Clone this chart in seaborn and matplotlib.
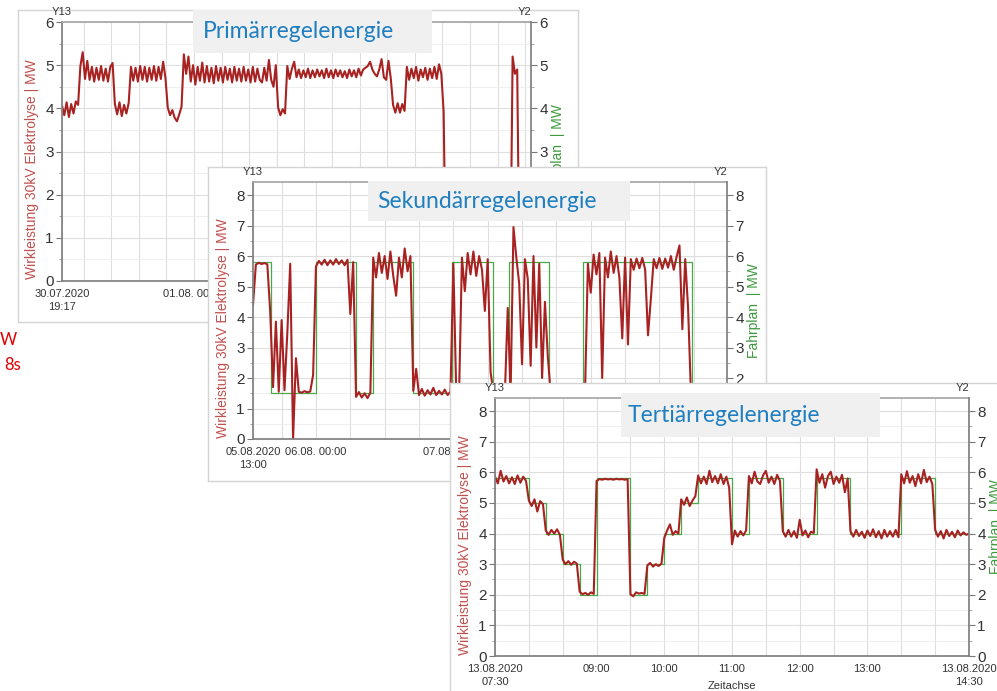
import pandas as pd
import matplotlib
matplotlib.use("Agg")
import matplotlib.pyplot as plt
from matplotlib.patches import Rectangle
from matplotlib.ticker import MultipleLocator
import seaborn as sns

# ---------------------------------------------------------------- data
# Primaerregelenergie: Wirkleistung, one reading every 30 min from 30.07.2020 19:17
prl_start = "2020-07-30 19:17"
prl_end = "2020-08-04 01:17"
prl_mw = [
    4.06, 3.84, 4.14, 3.80, 4.10, 3.88, 4.16,
    4.08,
    4.98, 5.30, 4.68, 5.10, 4.66, 4.96, 4.62, 4.94, 4.66, 4.98, 4.64, 4.92, 4.62, 4.96, 5.05,
    4.10, 3.86, 4.14, 3.82, 4.08, 3.88, 4.12,
    4.96, 4.64, 4.94, 4.62, 4.98, 4.66, 4.96, 4.62, 4.94, 4.66, 4.98, 4.64, 4.96, 4.68, 5.08, 4.70,
    4.02, 3.84, 3.96, 3.78, 3.70, 3.86, 4.04,
    5.25, 4.80, 5.20, 4.62, 5.00, 4.55, 4.96, 4.64, 5.06, 4.60,
    4.98, 4.62, 4.94, 4.58, 4.98, 4.64, 4.94, 4.60, 4.96, 4.66,
    4.92, 4.60, 4.96, 4.64, 4.92, 4.62, 4.96, 4.64, 4.90, 4.60,
    4.96, 4.62, 4.92, 4.66, 4.60, 4.94, 4.64, 5.12, 4.66, 4.50,
    5.00,
    4.02, 3.84, 3.98, 3.88,
    4.98, 4.68, 4.92, 5.08, 4.72, 4.90, 4.70, 4.88, 4.72, 4.92,
    4.70, 4.88, 4.72, 4.90, 4.74, 4.88, 4.70, 4.92, 4.72, 4.88,
    4.70, 4.90, 4.74, 4.88, 4.72, 4.86, 4.70, 4.90, 4.74, 4.88,
    4.72, 4.92, 4.76, 4.90, 4.94, 4.98, 5.08, 4.90, 4.80, 4.74,
    4.90, 5.14, 4.72, 4.66, 5.10, 4.70,
    4.08, 3.90, 4.12, 3.90, 4.10, 3.94,
    4.96, 4.66, 4.92, 4.70, 4.96, 4.64, 4.90, 4.72, 4.94, 4.66, 4.92, 4.70, 4.96, 4.68, 5.02, 4.80,
    3.92, 0.0,
    0, 0, 0, 0, 0, 0, 0, 0, 0, 0, 0, 0, 0, 0, 0, 0, 0, 0, 0, 0, 0, 0, 0, 0, 0, 0, 0, 0,
    5.20, 4.80, 4.90, 0.0,
    0, 0, 0, 0, 0,
]

# Sekundaerregelenergie: one reading every 30 min from 05.08.2020 13:00
srl_start = "2020-08-05 13:00"
srl_end = "2020-08-08 23:48"
srl_mw = [
    4.40,
    5.72, 5.78, 5.74, 5.77, 5.73,
    4.20,
    1.70, 3.85, 1.55, 3.90, 1.60, 3.50,
    5.75, 0.00, 2.65,
    1.55, 1.52, 1.57, 1.53, 1.56, 2.10,
    5.66, 5.84, 5.72, 5.88, 5.70, 5.86, 5.72, 5.90, 5.74, 5.86, 5.70, 5.88, 4.10, 5.80,
    1.38, 1.54, 1.36, 1.50, 1.34, 1.52,
    5.95, 5.30, 6.10, 5.45, 6.00, 5.25, 6.15, 5.35, 4.70, 5.95, 5.30, 6.25, 5.50, 6.00,
    1.58, 2.30, 1.44, 1.64, 1.42, 1.60, 1.46, 1.68, 1.44, 1.58, 1.46, 1.62, 1.44, 1.56,
    5.75,
    1.55, 1.50,
    5.95, 4.85, 6.10, 5.40, 6.15, 5.35, 6.00, 5.55, 4.20, 5.90, 2.20,
    1.50, 1.52, 1.48, 1.51, 1.50,
    4.30, 1.50,
    6.95, 5.95, 5.10, 2.45, 5.90, 5.25, 2.40, 6.00, 3.00, 5.75, 2.00, 4.50, 2.70,
    1.50, 1.52, 1.48, 1.51, 1.49, 1.50, 1.52, 1.48, 1.50, 1.51, 1.49, 1.50, 1.52,
    5.75, 4.80, 6.05, 5.40, 6.10, 2.00, 5.95, 5.30, 6.15, 5.45, 6.00, 5.30,
    3.30, 5.95, 3.10, 5.90, 5.55, 5.92, 5.60, 5.94, 5.56, 3.40, 4.60, 5.90,
    5.60, 5.94, 5.58, 5.92, 5.62, 6.00, 5.55, 5.98, 6.35, 3.60, 5.90, 4.30,
    1.50, 1.48, 1.52, 1.49, 1.51, 1.50, 1.48, 1.52, 1.50, 1.49, 1.51, 1.50, 1.50,
]
srl_plan_zeit = ["2020-08-05 13:00", "2020-08-05 16:06", "2020-08-06 00:00", "2020-08-06 07:00",
                 "2020-08-06 10:00", "2020-08-06 16:54", "2020-08-06 23:42", "2020-08-07 06:54",
                 "2020-08-07 09:42", "2020-08-07 16:42", "2020-08-07 22:36", "2020-08-08 17:36",
                 "2020-08-08 23:48"]
srl_plan_mw = [5.8, 1.5, 5.8, 1.5, 5.8, 1.5, 5.8, 1.5, 5.8, 1.5, 5.8, 1.5, 1.5]

# Tertiaerregelenergie: one reading every 2.5 min from 13.08.2020 07:30
trl_start = "2020-08-13 07:30"
trl_end = "2020-08-13 14:30"
trl_mw = [
    5.86, 5.64, 6.05, 5.70, 5.88, 5.64, 5.84, 5.62, 5.90, 5.66, 5.86, 5.72,
    5.08, 4.90, 5.12, 4.72, 5.06, 4.96,
    4.10, 3.96, 4.12, 4.00, 4.14, 3.96,
    3.15, 3.00, 3.10, 2.98, 3.08, 3.02,
    2.10, 2.02, 2.06, 2.00, 2.08, 2.03,
    5.72, 5.78, 5.76, 5.79, 5.77, 5.78, 5.76, 5.79, 5.77, 5.78, 5.76, 5.78,
    2.02, 1.95, 2.08, 2.04, 2.06, 2.03,
    2.96, 3.04, 2.92, 3.00, 2.94, 3.02,
    3.86, 4.10, 4.30, 3.96, 4.08, 4.00,
    5.12, 4.94, 5.18, 4.90, 5.08, 5.22,
    5.90, 5.64, 5.86, 5.62, 6.05, 5.68, 5.88, 5.64, 5.94, 5.62, 5.86, 5.50,
    3.65, 4.10, 3.90, 4.08, 3.94, 4.10,
    5.88, 5.64, 6.02, 5.70, 5.62, 5.90, 6.05, 5.66, 5.86, 5.62, 5.92, 5.72,
    4.08, 3.90, 4.12, 3.90, 4.08, 3.86, 4.45, 3.94, 4.10, 3.88, 4.06, 4.02,
    6.10, 5.66, 5.94, 5.50, 5.88, 6.02, 5.62, 5.86, 5.66, 5.92, 5.35, 5.80,
    4.08, 3.90, 4.12, 3.92, 4.06, 3.86, 4.10, 3.92, 4.14, 3.88, 4.08, 3.84, 4.12, 3.90, 4.08, 3.90, 4.12, 3.88,
    5.94, 5.64, 6.04, 5.66, 5.88, 5.55, 5.94, 5.64, 6.08, 5.68, 5.86, 5.62,
    4.12, 3.90, 4.08, 3.84, 4.12, 3.92, 4.06, 3.88, 4.10, 3.94, 4.04, 3.96, 4.00,
]
trl_plan_zeit = ["07:30", "08:00", "08:15", "08:30", "08:45", "09:00", "09:30", "09:45", "10:00", "10:15",
                 "10:30", "11:00", "11:15", "11:45", "12:15", "12:45", "13:30", "14:00", "14:30"]
trl_plan_mw = [5.8, 5.0, 4.0, 3.0, 2.0, 5.8, 2.0, 3.0, 4.0, 5.0, 5.8, 4.0, 5.8, 4.0, 5.8, 4.0, 5.8, 4.0, 4.0]

RED = "#a82222"
RED_LABEL = "#c0504d"
GREEN = "#4aa84a"
GREEN_LABEL = "#3c9a3c"
TITLE_BLUE = "#1f7fc0"

sns.set_theme(style="white")
plt.rcParams["font.family"] = ["Liberation Sans", "DejaVu Sans"]

W, H = 997, 691
fig = plt.figure(figsize=(W / 100, H / 100), dpi=100)


def rect(x0, y0, x1, y1):
    return [x0 / W, 1 - y1 / H, (x1 - x0) / W, (y1 - y0) / H]


def tick_labels(ticks, start, end, near):
    out = []
    for t in ticks:
        if t == start or t == end:
            out.append(f"{t:%d.%m.%Y}\n{t:%H:%M}")
        elif min(t - start, end - t) < near:
            out.append("")
        elif near >= pd.Timedelta("6h") and t.hour == 0:
            out.append(f"{t:%d.%m.} {t:%H:%M}")
        elif near < pd.Timedelta("6h") and t.minute == 0:
            out.append(f"{t:%H:%M}")
        else:
            out.append("")
    return out


def panel(z, frame, plot, ymax, title, box, title_x, zeit, mw, plan_zeit, plan_mw,
          xlim, ticks, labels, xlabel=None):
    fr = fig.add_axes(rect(*frame), zorder=z)
    fr.set_xticks([])
    fr.set_yticks([])
    fr.set_facecolor("white")
    for s in fr.spines.values():
        s.set_color("#d4d4d4")
        s.set_linewidth(1)

    ax = fig.add_axes(rect(*plot), zorder=z + 1)
    ax.set_facecolor("white")
    ax.set_axisbelow(True)
    if plan_zeit is not None:
        sns.lineplot(x=plan_zeit, y=plan_mw, ax=ax, color=GREEN, lw=0.9, drawstyle="steps-post")
    sns.lineplot(x=zeit, y=mw, ax=ax, color=RED, lw=1.5)
    ax.set_xlim(*xlim)
    ax.set_ylim(0, ymax)
    ax.set_xticks(ticks)
    ax.set_xticklabels(labels, fontsize=8, linespacing=1.35, color="#333333")
    ax.yaxis.set_major_locator(MultipleLocator(1))
    ax.yaxis.set_minor_locator(MultipleLocator(0.5))
    ax.grid(which="major", color="#dedede", lw=0.8)
    ax.grid(which="minor", axis="y", color="#efefef", lw=0.7)
    ax.tick_params(axis="both", which="major", direction="out", length=4, width=0.8,
                   color="#777777", labelsize=11, pad=2, labelcolor="#333333")
    ax.tick_params(axis="x", labelsize=8)
    ax.tick_params(axis="y", which="minor", direction="out", length=2, width=0.6, color="#999999")
    for side in ["left", "bottom"]:
        ax.spines[side].set_color("#808080")
    ax.spines["top"].set_color("#a6a6a6")
    ax.spines["right"].set_visible(False)
    w_px = plot[2] - plot[0]
    h_px = plot[3] - plot[1]
    ax.set_ylabel("Wirkleistung 30kV Elektrolyse | MW", color=RED_LABEL, fontsize=10)
    ax.yaxis.set_label_coords(-23 / w_px, 0.5 - 18 / h_px)
    if xlabel:
        ax.set_xlabel(xlabel, fontsize=8, color="#333333", va="center")
        ax.xaxis.set_label_coords(0.5, -30 / h_px)
    else:
        ax.set_xlabel("")
    ax.text(0, 1.0 + 5 / h_px, "Y13", transform=ax.transAxes, ha="center",
            va="bottom", fontsize=8, color="#333333")
    ax.text(1, 1.0 + 5 / h_px, "Y2", transform=ax.transAxes, ha="right",
            va="bottom", fontsize=8, color="#333333")

    ax2 = ax.twinx()
    ax2.set_zorder(z + 2)
    ax2.patch.set_visible(False)
    ax2.set_ylim(0, ymax)
    ax2.yaxis.set_major_locator(MultipleLocator(1))
    ax2.yaxis.set_minor_locator(MultipleLocator(0.5))
    ax2.tick_params(axis="y", which="major", direction="out", length=4, width=0.8,
                    color="#777777", labelsize=11, pad=2, labelcolor="#333333")
    ax2.tick_params(axis="y", which="minor", direction="out", length=2, width=0.6, color="#999999")
    for side in ["left", "top", "bottom"]:
        ax2.spines[side].set_visible(False)
    ax2.spines["right"].set_color("#808080")
    ax2.set_ylabel("Fahrplan  | MW", color=GREEN_LABEL, fontsize=10)
    ax2.yaxis.set_label_coords(1 + 20 / w_px, 0.5)

    x0, y0, x1, y1 = box
    fig.patches.append(Rectangle((x0 / W, 1 - y1 / H), (x1 - x0) / W, (y1 - y0) / H,
                                 transform=fig.transFigure, facecolor="#f0f0f0",
                                 edgecolor="none", zorder=z + 3))
    fig.text(title_x / W, 1 - (y0 + y1) / 2 / H, title, family=["Lato", "DejaVu Sans"],
             fontsize=16.5, color=TITLE_BLUE, ha="left", va="center", zorder=z + 4)


# Primaerregelenergie
s, e = pd.Timestamp(prl_start), pd.Timestamp(prl_end)
zeit = pd.date_range(s, periods=len(prl_mw), freq="30min")
ticks = [s] + list(pd.date_range("2020-07-31 00:00", e, freq="6h"))
panel(10, (18, 10, 578, 322), (62, 22, 531, 281), 6, "Primärregelenergie",
      (193, 10, 432, 53), 203, zeit, prl_mw, None, None, (s, e), ticks,
      tick_labels(ticks, s, e, pd.Timedelta("8h")))

# Sekundaerregelenergie
s, e = pd.Timestamp(srl_start), pd.Timestamp(srl_end)
zeit = pd.date_range(s, periods=len(srl_mw), freq="30min")
ticks = [s] + list(pd.date_range("2020-08-05 18:00", e, freq="6h"))
panel(20, (208, 167, 766, 481), (253, 182, 727, 439), 8.43, "Sekundärregelenergie",
      (368, 181, 630, 221), 377, zeit, srl_mw, pd.to_datetime(srl_plan_zeit), srl_plan_mw,
      (s, e), ticks, tick_labels(ticks, s, e, pd.Timedelta("8h")))

# Tertiaerregelenergie
s, e = pd.Timestamp(trl_start), pd.Timestamp(trl_end)
zeit = pd.date_range(s, periods=len(trl_mw), freq="150s")
ticks = list(pd.date_range(s, e, freq="30min"))
plan = pd.to_datetime(["2020-08-13 " + t for t in trl_plan_zeit])
panel(30, (450, 383, 1000, 700), (495, 398, 969, 656), 8.43, "Tertiärregelenergie",
      (621, 393, 880, 437), 628, zeit, trl_mw, plan, trl_plan_mw,
      (s, e), ticks, tick_labels(ticks, s, e, pd.Timedelta("45min")), xlabel="Zeitachse")

# leftovers of the slide behind the screenshots
fig.text(0 / W, 1 - 340 / H, "W", color="#e00000", fontsize=12, family=["Lato", "DejaVu Sans"],
         va="center", zorder=1)
fig.text(4 / W, 1 - 365 / H, "8s", color="#e00000", fontsize=12, family=["Lato", "DejaVu Sans"],
         va="center", zorder=1)

fig.savefig("out.png", dpi=100, facecolor="white")
